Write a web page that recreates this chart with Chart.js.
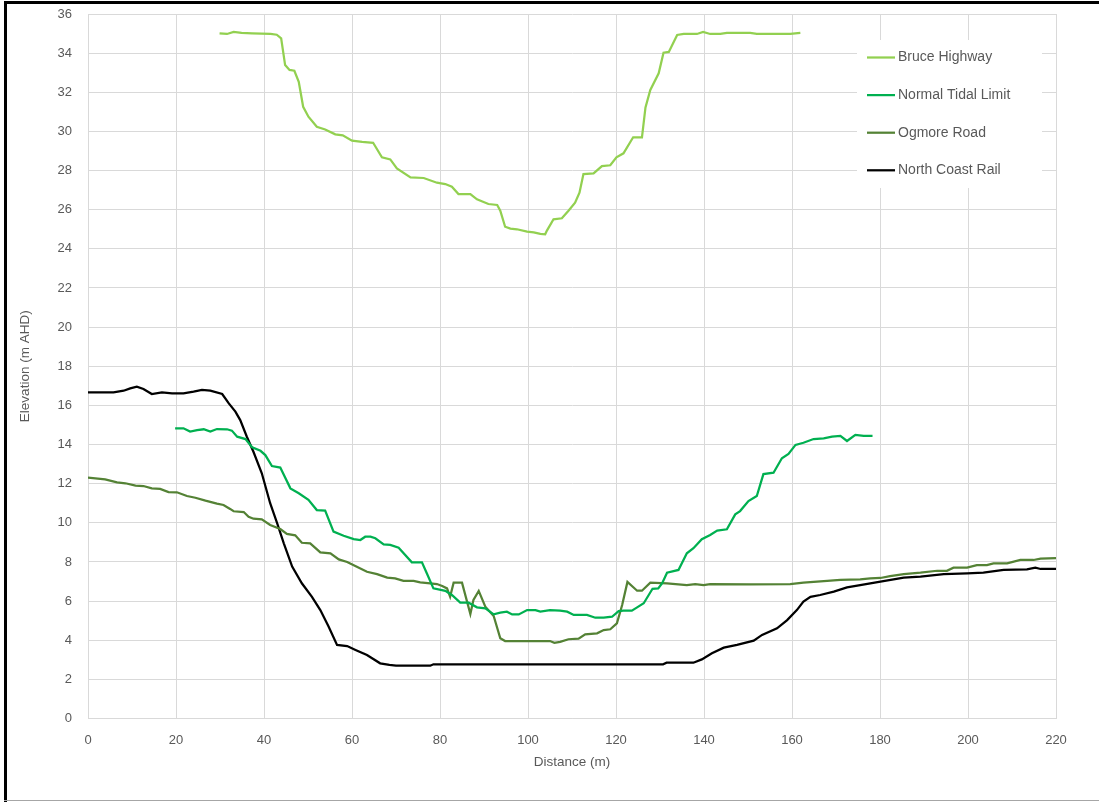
<!DOCTYPE html>
<html>
<head>
<meta charset="utf-8">
<script src="https://cdn.jsdelivr.net/npm/chart.js@4.4.1/dist/chart.umd.min.js"></script>
<style>
  html, body { margin: 0; padding: 0; background: #ffffff; }
  #wrap { position: relative; width: 1099px; height: 802px; overflow: hidden; }
  #c { position: absolute; left: 0; top: 0; }
  .fr { position: absolute; pointer-events: none; }
</style>
</head>
<body>
<div id="wrap">
  <canvas id="c" width="1099" height="802" style="width:1099px;height:802px"></canvas>
  <div class="fr" style="left:4px;top:1px;width:3px;height:801px;background:#000;"></div>
  <div class="fr" style="left:4px;top:1px;width:1095px;height:3px;background:#000;"></div>
  <div class="fr" style="left:4px;top:800px;width:1095px;height:1px;background:#a6a6a6;"></div>
</div>
<script>
const seriesNames = ['Bruce Highway', 'Normal Tidal Limit', 'Ogmore Road', 'North Coast Rail'];

const bruceDist = [29.9,31.6,33.1,34.9,37.3,41.5,42.9,43.9,44.8,45.8,46.9,47.9,48.9,50.1,52.0,53.9,56.2,57.9,60.0,62.3,64.8,66.8,68.7,70.2,73.3,76.3,79.3,81.2,82.7,84.2,86.9,88.4,91.0,93.0,93.7,94.8,96.0,97.5,99.8,101.3,102.8,103.9,104.3,105.8,107.7,109.2,110.7,111.7,112.6,114.9,116.8,118.7,120.1,121.7,123.9,125.9,126.7,127.8,129.7,130.8,132.0,133.9,135.4,138.4,139.8,141.4,143.7,145.2,150.5,152.0,159.6,161.9];
const bruceElev = [35.01,34.98,35.08,35.03,35.01,34.98,34.94,34.76,33.39,33.14,33.10,32.54,31.26,30.75,30.24,30.10,29.85,29.80,29.53,29.46,29.42,28.68,28.57,28.11,27.65,27.62,27.38,27.31,27.17,26.80,26.80,26.53,26.29,26.24,25.95,25.13,25.03,25.00,24.88,24.84,24.76,24.74,24.93,25.51,25.56,25.95,26.36,26.87,27.82,27.86,28.23,28.27,28.68,28.88,29.70,29.70,31.23,32.12,32.97,34.02,34.06,34.93,34.98,34.98,35.08,34.98,34.98,35.03,35.03,34.98,34.98,35.03];

const tidalDist = [19.8,21.7,23.2,24.8,26.3,27.8,29.3,31.6,32.7,33.9,35.8,37.3,39.2,40.3,41.8,43.7,46.0,47.9,50.1,52.0,53.9,55.8,58.1,60.4,61.9,63.0,64.2,65.3,67.2,68.7,70.6,73.6,75.9,77.0,78.5,81.2,82.7,84.6,86.5,88.4,90.3,92.2,93.7,95.2,96.4,97.9,99.8,101.7,102.8,105.0,107.3,108.9,110.4,113.4,115.3,117.2,119.1,120.6,121.7,123.6,124.8,126.3,128.3,129.6,130.5,131.6,134.2,136.1,137.6,139.5,141.4,143.0,145.2,147.1,148.2,150.1,152.0,153.5,155.8,157.7,159.2,160.8,162.6,164.9,167.2,169.1,171.0,172.5,174.4,176.3,178.3];
const tidalElev = [14.83,14.83,14.66,14.74,14.78,14.66,14.79,14.78,14.71,14.40,14.28,13.86,13.68,13.46,12.90,12.82,11.76,11.51,11.17,10.65,10.62,9.55,9.34,9.17,9.12,9.29,9.29,9.21,8.90,8.87,8.73,7.98,7.98,7.42,6.65,6.52,6.31,5.92,5.92,5.68,5.63,5.32,5.41,5.46,5.32,5.32,5.54,5.54,5.46,5.54,5.51,5.46,5.29,5.29,5.15,5.15,5.20,5.49,5.51,5.51,5.68,5.89,6.63,6.65,6.91,7.45,7.59,8.44,8.70,9.16,9.38,9.60,9.67,10.43,10.60,11.11,11.37,12.49,12.56,13.30,13.52,13.98,14.09,14.28,14.32,14.40,14.44,14.18,14.49,14.44,14.44];

const ogmoreDist = [0,3.9,6.6,8.5,10.8,12.6,14.5,16.4,18.3,20.2,22.5,24.4,26.7,29.3,30.8,32.3,33.1,35.4,36.5,37.6,39.5,41.4,43.7,45.2,47.1,48.6,50.5,52.8,55.1,57.0,58.9,61.1,63.4,65.7,68.0,69.8,71.7,74.0,75.5,77.8,79.3,80.5,81.6,82.3,83.1,85.0,86.9,87.6,88.8,90.3,92.2,93.7,94.8,105.0,106.0,107.3,109.2,111.5,113.0,115.7,117.2,118.7,120.2,121.4,122.6,124.8,125.9,127.8,131.6,136.1,138.0,139.9,141.4,150.5,159.6,162.6,165.7,168.0,171.0,175.5,177.8,180.1,182.3,185.4,189.2,193.0,195.2,196.7,199.8,202.0,204.3,205.8,208.9,211.9,214.9,216.5,220];
const ogmoreElev = [12.31,12.22,12.07,12.02,11.90,11.88,11.76,11.73,11.57,11.56,11.37,11.28,11.13,10.98,10.91,10.71,10.59,10.55,10.31,10.21,10.18,9.89,9.68,9.43,9.36,8.98,8.95,8.49,8.44,8.13,8.00,7.76,7.50,7.38,7.20,7.16,7.03,7.03,6.96,6.91,6.87,6.77,6.65,6.22,6.94,6.94,5.34,6.06,6.52,5.71,5.24,4.10,3.96,3.96,3.87,3.92,4.05,4.08,4.30,4.35,4.52,4.56,4.86,5.80,6.98,6.53,6.53,6.94,6.91,6.82,6.87,6.82,6.87,6.86,6.87,6.94,6.99,7.03,7.08,7.11,7.16,7.18,7.28,7.38,7.45,7.55,7.55,7.71,7.71,7.84,7.84,7.93,7.93,8.10,8.10,8.17,8.20];

const railDist = [0,5.8,8.1,9.6,11.1,12.6,14.5,16.8,19.1,21.7,24.0,25.9,27.8,30.5,32.0,33.5,34.6,36.1,37.6,39.5,41.4,43.0,44.5,46.4,48.6,50.9,52.8,54.7,56.6,58.9,60.8,63.4,66.4,68.5,70.0,77.8,78.5,130.7,131.5,137.6,139.5,141.8,144.5,147.5,151.3,153.2,156.6,158.9,161.1,162.6,164.2,166.4,169.5,172.5,175.5,180.1,185.4,189.2,194.5,199.8,203.5,208.1,213.4,215.3,216.5,220];
const railElev = [16.67,16.67,16.75,16.87,16.96,16.84,16.58,16.67,16.62,16.62,16.70,16.79,16.75,16.58,16.10,15.68,15.25,14.40,13.63,12.53,11.00,9.97,8.95,7.76,6.91,6.22,5.54,4.69,3.76,3.70,3.50,3.24,2.82,2.74,2.70,2.70,2.77,2.77,2.85,2.85,3.02,3.33,3.62,3.76,3.98,4.27,4.61,5.03,5.54,5.97,6.22,6.31,6.48,6.70,6.82,6.99,7.20,7.25,7.38,7.42,7.45,7.59,7.62,7.71,7.64,7.64];

const xTicks = [0,20,40,60,80,100,120,140,160,180,200,220];
const yTicks = [0,2,4,6,8,10,12,14,16,18,20,22,24,26,28,30,32,34,36];

const colors = ['#92D050', '#00B050', '#548235', '#000000'];

function pts(xs, ys) { return xs.map((x, i) => ({ x: x, y: ys[i] })); }

const allSeries = [
  pts(bruceDist, bruceElev),
  pts(tidalDist, tidalElev),
  pts(ogmoreDist, ogmoreElev),
  pts(railDist, railElev)
];

const textColor = '#595959';
const fontFamily = '"Liberation Sans", Arial, sans-serif';

const insideLegend = {
  id: 'insideLegend',
  afterDatasetsDraw(chart) {
    const ctx = chart.ctx;
    const a = chart.chartArea;
    ctx.save();
    ctx.fillStyle = '#ffffff';
    const bx = a.right - 199, by = a.top + 26;
    ctx.fillRect(bx, by, 185, 148);
    chart.data.datasets.forEach((ds, i) => {
      const y = by + 17.5 + i * 37.6;
      ctx.strokeStyle = ds.borderColor;
      ctx.lineWidth = 2.25;
      ctx.beginPath();
      ctx.moveTo(bx + 10, y);
      ctx.lineTo(bx + 38, y);
      ctx.stroke();
      ctx.fillStyle = textColor;
      ctx.font = '14px ' + fontFamily;
      ctx.textBaseline = 'middle';
      ctx.textAlign = 'left';
      ctx.fillText(ds.label, bx + 41, y);
    });
    ctx.restore();
  }
};

new Chart(document.getElementById('c'), {
  type: 'scatter',
  data: {
    datasets: seriesNames.map((name, i) => ({
      label: name,
      data: allSeries[i],
      showLine: true,
      borderColor: colors[i],
      backgroundColor: colors[i],
      borderWidth: 2.25,
      pointRadius: 0,
      pointHoverRadius: 0,
      tension: 0,
      fill: false
    }))
  },
  options: {
    responsive: false,
    animation: false,
    devicePixelRatio: 1,
    layout: { padding: { left: 0, top: 14, right: 43, bottom: 0 } },
    plugins: {
      legend: { display: false },
      tooltip: { enabled: false }
    },
    scales: {
      x: {
        type: 'linear',
        min: 0, max: 220,
        afterBuildTicks: s => { s.ticks = xTicks.map(v => ({ value: v })); },
        afterFit: s => { s.height = 83.5; s.paddingLeft = 8; s.paddingRight = 12; },
        grid: { color: '#d9d9d9', lineWidth: 1, drawTicks: false },
        border: { color: '#d9d9d9', width: 1 },
        ticks: { color: textColor, padding: 14, font: { size: 13, family: fontFamily }, maxRotation: 0 },
        title: { display: true, text: 'Distance (m)', color: textColor, font: { size: 13.5, family: fontFamily }, padding: { top: 0, bottom: 32 } }
      },
      y: {
        type: 'linear',
        min: 0, max: 36,
        afterBuildTicks: s => { s.ticks = yTicks.map(v => ({ value: v })); },
        afterFit: s => { s.width = 88; s.paddingTop = 8; s.paddingBottom = 8; },
        grid: { color: '#d9d9d9', lineWidth: 1, drawTicks: false },
        border: { color: '#d9d9d9', width: 1 },
        ticks: { color: textColor, padding: 16, font: { size: 13, family: fontFamily } },
        title: { display: true, text: 'Elevation (m AHD)', color: textColor, font: { size: 13.5, family: fontFamily }, padding: { top: 17, bottom: 0 } }
      }
    }
  },
  plugins: [insideLegend]
});
</script>
</body>
</html>
